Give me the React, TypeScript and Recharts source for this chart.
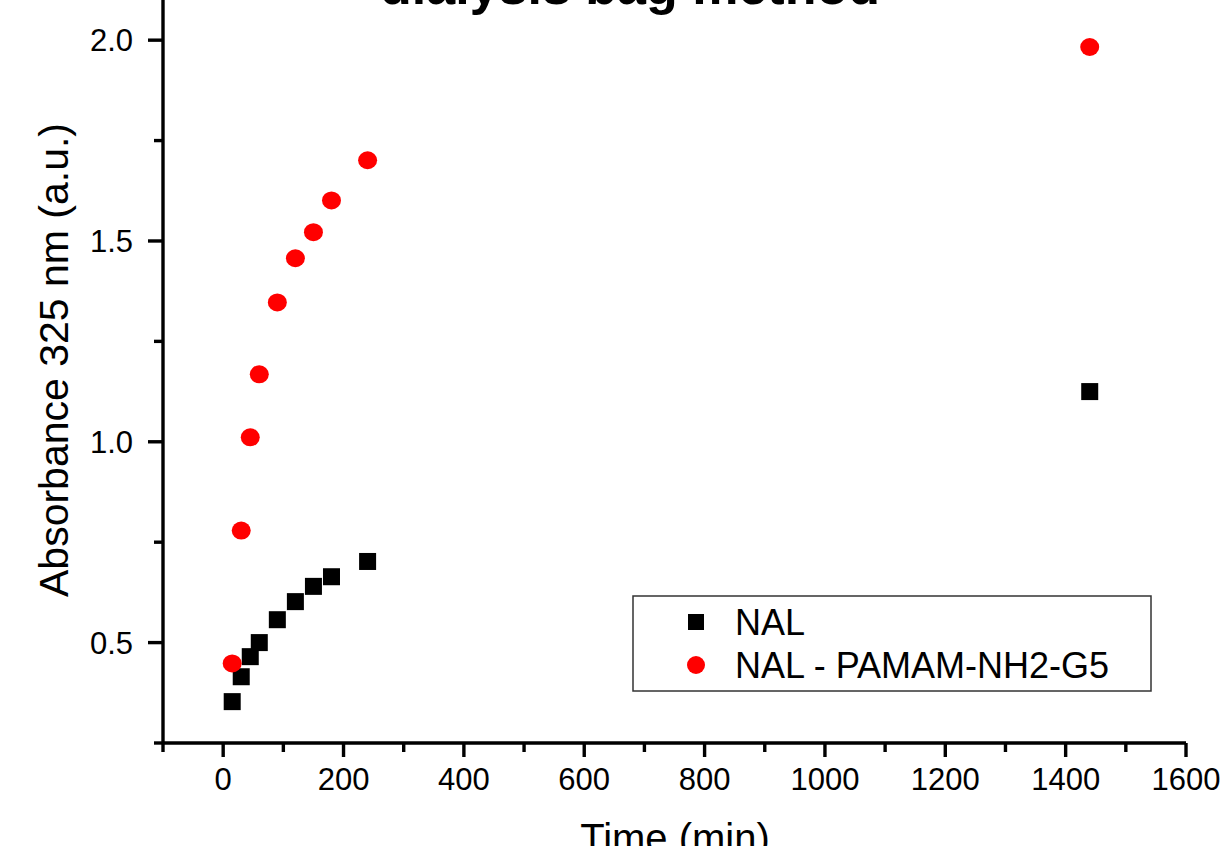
import {
  ScatterChart,
  Scatter,
  XAxis,
  YAxis,
  Customized,
} from "recharts";

// release data (time in min, absorbance at 325 nm)
const times = [15, 30, 45, 60, 90, 120, 150, 180, 240, 1440];
const nal = [0.353, 0.415, 0.465, 0.5, 0.557, 0.602, 0.64, 0.664, 0.702, 1.125];
const nalPamam = [0.448, 0.779, 1.011, 1.168, 1.347, 1.457, 1.522, 1.601, 1.701, 1.983];

const xTicks = [-100, 0, 100, 200, 300, 400, 500, 600, 700, 800, 900, 1000, 1100, 1200, 1300, 1400, 1500, 1600];
const yTicks = [0.25, 0.5, 0.75, 1.0, 1.25, 1.5, 1.75, 2.0];

const SERIES = [
  { key: "nal", name: "NAL", color: "#000000", shape: "square" },
  { key: "pamam", name: "NAL - PAMAM-NH2-G5", color: "#ff0000", shape: "circle" },
];

const nalData = times.map((t, i) => ({ x: t, y: nal[i] }));
const pamamData = times.map((t, i) => ({ x: t, y: nalPamam[i] }));

const FONT = "'Liberation Sans', Arial, sans-serif";
const W = 1220;
const H = 846;
const AXIS_W = 3.4;

const XTick = (props: any) => {
  const { x, y, payload } = props;
  const v = payload.value as number;
  const major = v % 200 === 0;
  return (
    <g>
      <line x1={x} y1={y} x2={x} y2={y + (major ? 14 : 9)} stroke="#000" strokeWidth={AXIS_W} />
      {major && (
        <text x={x} y={y + 47} textAnchor="middle" fontSize={31} fontFamily={FONT} fill="#000">
          {v}
        </text>
      )}
    </g>
  );
};

const YTick = (props: any) => {
  const { x, y, payload } = props;
  const v = payload.value as number;
  const major = Math.abs(v * 2 - Math.round(v * 2)) < 1e-6;
  return (
    <g>
      <line x1={x} y1={y} x2={x - (major ? 15 : 9)} y2={y} stroke="#000" strokeWidth={AXIS_W} />
      {major && (
        <text x={x - 30} y={y + 11} textAnchor="end" fontSize={31} fontFamily={FONT} fill="#000">
          {v.toFixed(1)}
        </text>
      )}
    </g>
  );
};

const squareShape = (p: any) => (
  <rect x={p.cx - 8.5} y={p.cy - 8.5} width={17} height={17} fill="#000" />
);
const circleShape = (p: any) => (
  <ellipse cx={p.cx} cy={p.cy} rx={9.5} ry={9} fill="#ff0000" />
);

// legend box + titles, drawn on top of the plot
const Overlay = () => (
  <g fontFamily={FONT} fill="#000">
    <text x={630} y={4} textAnchor="middle" fontSize={52} fontWeight="bold">
      dialysis bag method
    </text>
    <text x={675} y={852} textAnchor="middle" fontSize={40}>
      Time (min)
    </text>
    <text x={68} y={360} textAnchor="middle" fontSize={41} transform="rotate(-90, 68, 360)">
      Absorbance 325 nm (a.u.)
    </text>
    <g transform="translate(633, 596)">
      <rect x={0} y={0} width={518} height={95} fill="#fff" stroke="#333" strokeWidth={1.5} />
      {SERIES.map((s, i) => {
        const cy = 26 + i * 43;
        return (
          <g key={s.key}>
            {s.shape === "square" ? (
              <rect x={63 - 8} y={cy - 8} width={16} height={16} fill={s.color} />
            ) : (
              <ellipse cx={63} cy={cy} rx={9} ry={9} fill={s.color} />
            )}
            <text x={102} y={cy + 13} fontSize={36} fill="#000">
              {s.name}
            </text>
          </g>
        );
      })}
    </g>
  </g>
);

export default function App() {
  return (
    <div style={{ position: "absolute", left: 0, top: 0, width: W, height: H, background: "#fff" }}>
      <ScatterChart width={W} height={H} margin={{ top: 0, right: 34, bottom: 102, left: 162 }}>
        <XAxis
          type="number"
          dataKey="x"
          domain={[-100, 1600]}
          ticks={xTicks}
          interval={0}
          height={1}
          tickSize={0}
          tickMargin={0}
          tickLine={false}
          tick={<XTick />}
          axisLine={{ stroke: "#000", strokeWidth: AXIS_W }}
          allowDataOverflow
        />
        <YAxis
          type="number"
          dataKey="y"
          domain={[0.25, 2.1]}
          ticks={yTicks}
          interval={0}
          width={1}
          tickSize={0}
          tickMargin={0}
          tickLine={false}
          tick={<YTick />}
          axisLine={{ stroke: "#000", strokeWidth: AXIS_W }}
          allowDataOverflow
        />
        <Scatter name={SERIES[0].name} data={nalData} fill="#000" shape={squareShape} isAnimationActive={false} />
        <Scatter name={SERIES[1].name} data={pamamData} fill="#ff0000" shape={circleShape} isAnimationActive={false} />
        <Customized component={<Overlay />} />
      </ScatterChart>
    </div>
  );
}
